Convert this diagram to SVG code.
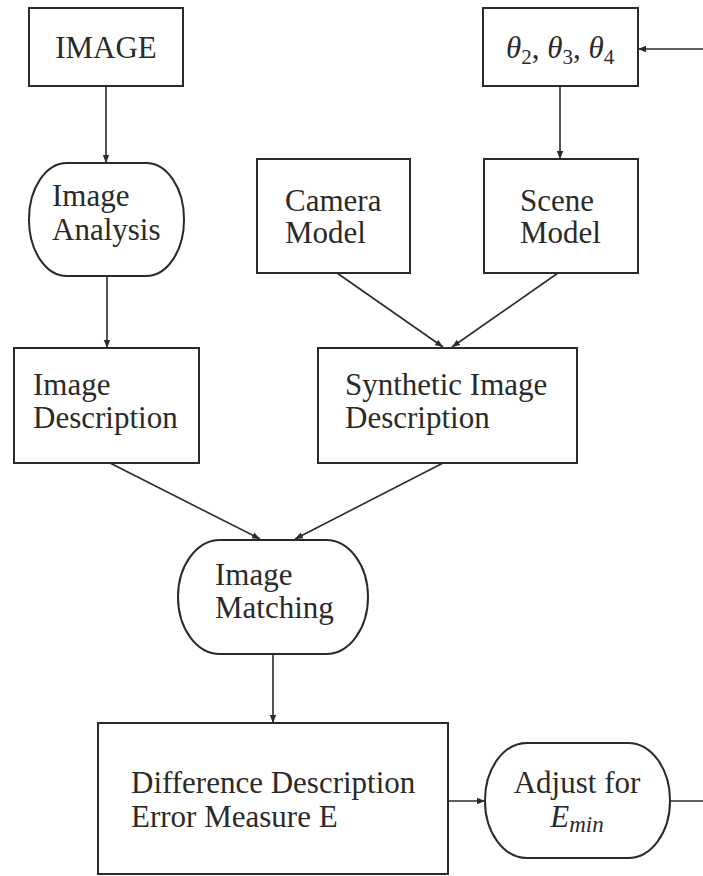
<svg xmlns="http://www.w3.org/2000/svg" width="703" height="876" viewBox="0 0 703 876">
<style>
.box{fill:none;stroke:#2a2a2a;stroke-width:2}
.t{font-family:"Liberation Serif","DejaVu Serif",serif;font-size:31px;fill:#2a2a2a}
.i{font-style:italic}
.c{stroke:#2a2a2a;stroke-width:1.6;fill:none}
</style>
<defs>
<marker id="ah" viewBox="0 0 10 10" refX="10" refY="5" markerWidth="8" markerHeight="8" markerUnits="userSpaceOnUse" orient="auto">
<path d="M0,1 L10,5 L0,9 z" fill="#2a2a2a"/>
</marker>
</defs>
<rect width="703" height="876" fill="#ffffff"/>
<g id="connectors">
<line class="c" x1="106" y1="86" x2="106" y2="163" marker-end="url(#ah)"/>
<line class="c" x1="560" y1="86" x2="560" y2="159" marker-end="url(#ah)"/>
<line class="c" x1="703" y1="49" x2="638" y2="49" marker-end="url(#ah)"/>
<line class="c" x1="107" y1="276" x2="107" y2="348" marker-end="url(#ah)"/>
<line class="c" x1="337" y1="273" x2="443" y2="347" marker-end="url(#ah)"/>
<line class="c" x1="558" y1="273" x2="452" y2="347" marker-end="url(#ah)"/>
<line class="c" x1="110" y1="463" x2="260" y2="539" marker-end="url(#ah)"/>
<line class="c" x1="443" y1="463" x2="295" y2="539" marker-end="url(#ah)"/>
<line class="c" x1="273" y1="654" x2="273" y2="723" marker-end="url(#ah)"/>
<line class="c" x1="448" y1="801" x2="485" y2="801" marker-end="url(#ah)"/>
<line class="c" x1="670" y1="801" x2="703" y2="801"/>
</g>
<g id="image">
<rect class="box" x="29" y="8" width="154" height="78"/>
<text class="t" x="106" y="58" text-anchor="middle">IMAGE</text>
</g>
<g id="theta">
<rect class="box" x="483" y="8" width="155" height="78"/>
<text class="t" x="506" y="58"><tspan class="i">θ</tspan><tspan font-size="21" dy="6">2</tspan><tspan dy="-6">, </tspan><tspan class="i">θ</tspan><tspan font-size="21" dy="6">3</tspan><tspan dy="-6">, </tspan><tspan class="i">θ</tspan><tspan font-size="21" dy="6">4</tspan></text>
</g>
<g id="image-analysis">
<rect class="box" x="29" y="163" width="155" height="113" rx="38" ry="56"/>
<text class="t" x="52" y="206">Image</text>
<text class="t" x="52" y="240">Analysis</text>
</g>
<g id="camera-model">
<rect class="box" x="257" y="159" width="153" height="114"/>
<text class="t" x="285" y="211">Camera</text>
<text class="t" x="285" y="243">Model</text>
</g>
<g id="scene-model">
<rect class="box" x="484" y="159" width="154" height="114"/>
<text class="t" x="520" y="211">Scene</text>
<text class="t" x="520" y="243">Model</text>
</g>
<g id="image-description">
<rect class="box" x="14" y="348" width="185" height="115"/>
<text class="t" x="33" y="395">Image</text>
<text class="t" x="33" y="428">Description</text>
</g>
<g id="synthetic-image-description">
<rect class="box" x="318" y="348" width="259" height="115"/>
<text class="t" x="345" y="395">Synthetic Image</text>
<text class="t" x="345" y="428">Description</text>
</g>
<g id="image-matching">
<rect class="box" x="178" y="540" width="190" height="114" rx="42" ry="57"/>
<text class="t" x="215" y="585">Image</text>
<text class="t" x="215" y="618">Matching</text>
</g>
<g id="difference-description">
<rect class="box" x="98" y="723" width="350" height="151"/>
<text class="t" x="131" y="793">Difference Description</text>
<text class="t" x="131" y="827">Error Measure E</text>
</g>
<g id="adjust">
<rect class="box" x="485" y="743" width="185" height="115" rx="42" ry="57"/>
<text class="t" x="577" y="793" text-anchor="middle">Adjust for</text>
<text class="t" x="577" y="827" text-anchor="middle"><tspan class="i">E</tspan><tspan class="i" font-size="23" dy="5">min</tspan></text>
</g>
</svg>
